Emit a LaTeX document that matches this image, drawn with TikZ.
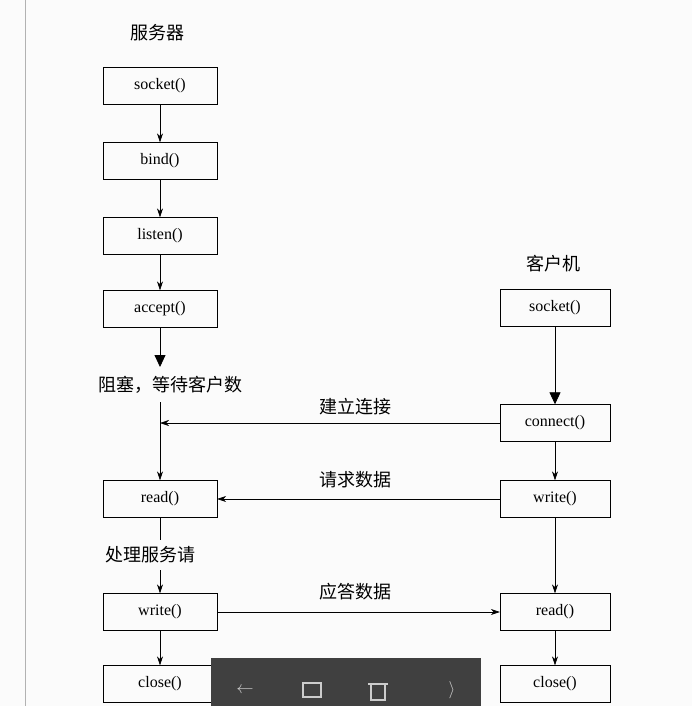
\documentclass[tikz,border=0pt]{standalone}
\usepackage{fontspec}
\setmainfont{Liberation Serif}
\newfontfamily\cjk{Noto Sans CJK SC}
\usetikzlibrary{arrows.meta}
\begin{document}
\begin{tikzpicture}[x=1pt,y=-1pt,
  fn/.style={draw,minimum width=114pt,minimum height=37pt,inner sep=0pt,font=\fontsize{16}{16}\selectfont},
  lbl/.style={font=\cjk\fontsize{18}{18}\selectfont},
  ar/.style={-{Stealth[length=9pt,width=6pt]},line width=0.6pt},
  big/.style={-{Triangle[length=12pt,width=11pt]},line width=0.8pt}]
\useasboundingbox (0,0) rectangle (692,706);
\fill[white!97!gray] (0,0) rectangle (692,706);
\draw[gray!60] (25,0) -- (25,706);
\node[lbl] (ts) at (157,33) {服务器};
\node[lbl] (tc) at (553,264) {客户机};
\node[fn] (s1) at (160,86) {socket()};
\node[fn] (s2) at (160,161) {bind()};
\node[fn] (s3) at (160,236) {listen()};
\node[fn] (s4) at (160,309) {accept()};
\node[fn] (s5) at (160,499) {read()};
\node[fn] (s6) at (160,612) {write()};
\node[fn] (s7) at (160,684) {close()};
\node[fn,minimum width=110pt] (c1) at (555,308) {socket()};
\node[fn,minimum width=110pt] (c2) at (555,423) {connect()};
\node[fn,minimum width=110pt] (c3) at (555,499) {write()};
\node[fn,minimum width=110pt] (c4) at (555,612) {read()};
\node[fn,minimum width=110pt] (c5) at (555,684) {close()};
\node[lbl] (wait) at (170,385) {阻塞，等待客户数};
\node[lbl] (proc) at (150,555) {处理服务请};
\coordinate (w0) at (160,367);
\coordinate (w1) at (160,402);
\coordinate (p0) at (160,540);
\coordinate (p1) at (160,570);
\draw[ar] (s1.south) -- (s2.north);
\draw[ar] (s2.south) -- (s3.north);
\draw[ar] (s3.south) -- (s4.north);
\draw[big] (s4.south) -- (w0);
\draw[ar] (w1) -- (s5.north);
\draw (s5.south) -- (p0);
\draw[ar] (p1) -- (s6.north);
\draw[ar] (s6.south) -- (s7.north);
\draw[big] (c1.south) -- (c2.north);
\draw[ar] (c2.south) -- (c3.north);
\draw[ar] (c3.south) -- (c4.north);
\draw[ar] (c4.south) -- (c5.north);
\coordinate (j1) at (160,423);
\draw[ar] (c2.west) -- (j1);
\draw[ar] (c3.west) -- (s5.east);
\draw[ar] (s6.east) -- (c4.west);
\node[lbl] (l1) at (355,407) {建立连接};
\node[lbl] (l2) at (355,480) {请求数据};
\node[lbl] (l3) at (355,592) {应答数据};
% player overlay
\fill[black!75] (211,658) rectangle (481,706);
\node[white!80!black,font=\sffamily\fontsize{18}{18}\selectfont] (i1) at (245,690) {$\leftarrow$};
\draw[white!80!black,line width=1.2pt] (303,683) rectangle (321,697);
\draw[white!80!black,line width=1.2pt] (371,684) rectangle (385,700) (368,684) -- (388,684);
\node[white!80!black,font=\fontsize{18}{18}\selectfont] (i4) at (452,690) {$\rangle$};
\end{tikzpicture}
\end{document}
